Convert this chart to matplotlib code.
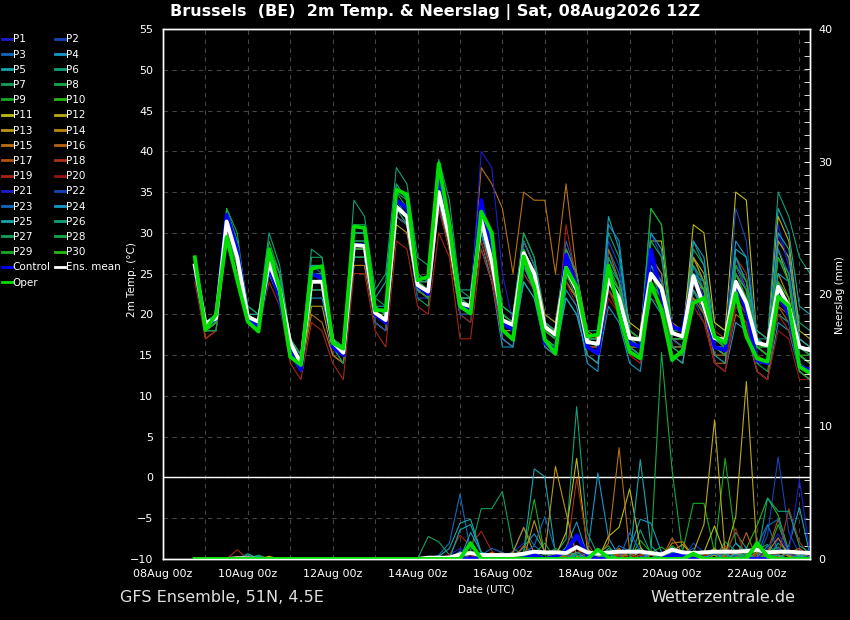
import numpy as np
import pandas as pd
import matplotlib
matplotlib.use('Agg')
import matplotlib.pyplot as plt
import matplotlib.dates as mdates
from matplotlib.ticker import MultipleLocator
from matplotlib.lines import Line2D

# 6-hourly forecast steps, GFS ensemble run 08Aug2026 12Z
times = pd.date_range('2026-08-08 18:00', periods=59, freq='6h')

# ---- 2m temperature (degC) ----
temp_mean = [26, 18.9, 19.5, 31.4, 27, 19.7, 19.1, 26.3, 23, 16.5, 14, 24, 24, 16.6, 15.3, 28.5, 28.4,
             20.2, 19.3, 33.2, 32, 23.6, 22.8, 35, 29.5, 21.4, 21, 31.6, 26.5, 19.3, 18.7, 27.5, 25,
             18.5, 17.5, 25.7, 23, 16.6, 16.4, 24.3, 22, 17.1, 16.9, 25, 23.2, 17.7, 17.3, 24.7, 21,
             17.1, 16.9, 24, 21.4, 16.5, 16.2, 23.4, 21, 16, 15.6]
temp_control = [26, 18.5, 19.5, 32.2, 28, 19.5, 18.5, 26, 22, 15.5, 13.2, 25, 24.5, 16, 15, 28.5, 28.5,
                20, 19, 34, 33, 23.5, 22.5, 36.5, 30.5, 21, 20.5, 34, 27, 18.9, 18.1, 26.7, 24.5,
                16.5, 15.6, 27.3, 23.5, 16, 15.2, 24.5, 22, 16.5, 16, 27.9, 22.2, 18.5, 18, 24.6, 21.5,
                16, 15.6, 24, 20.5, 14.4, 14, 22.5, 20, 13.6, 13.2]
temp_oper = [27, 18.1, 20, 29.5, 24.2, 19.1, 17.9, 28, 23, 14.8, 13.8, 25.6, 25.9, 16.5, 15.8, 30.8, 30.6,
             20.5, 20.5, 35.3, 34.7, 24.2, 24.6, 38.5, 31, 21, 20.1, 32.6, 30, 18.1, 16.9, 27.1, 23.4,
             16.9, 15.2, 25.7, 23.4, 17.3, 17.5, 26, 20.1, 15.4, 14.6, 23.8, 20.5, 14.4, 15.6, 21.4, 22,
             17.3, 16.5, 22.6, 17.3, 14.6, 14.2, 22.2, 21, 13.6, 12.8]

temp_p01 = [26, 18, 19, 32, 28, 20, 19, 27, 23, 16, 14, 25, 24, 17, 15, 29, 29, 20, 19, 34, 33, 24, 23, 36, 30,
            22, 21, 33, 27, 19, 18, 28, 25, 18, 17, 26, 23, 17, 16, 26, 23, 17, 16, 27, 24, 18, 17, 26, 22,
            17, 16, 27, 23, 16, 15, 30, 26, 15, 14]
temp_p02 = [25, 18, 19, 31, 27, 20, 19, 25, 22, 16, 13, 23, 23, 16, 15, 28, 28, 21, 20, 33, 31, 23, 22, 35, 29,
            21, 20, 31, 26, 20, 19, 29, 26, 19, 18, 27, 24, 17, 16, 23, 21, 16, 15, 24, 22, 17, 16, 22, 19,
            16, 15, 21, 19, 14, 14, 20, 19, 14, 13]
temp_p03 = [26, 19, 20, 32, 27, 20, 19, 26, 23, 17, 15, 26, 25, 17, 16, 27, 27, 19, 18, 32, 31, 23, 22, 34, 28,
            20, 20, 30, 25, 17, 16, 25, 23, 18, 17, 29, 25, 17, 17, 28, 25, 18, 17, 24, 22, 17, 17, 27, 24,
            17, 17, 25, 22, 18, 17, 27, 24, 17, 16]
temp_p04 = [26, 19, 20, 31, 26, 19, 19, 25, 22, 16, 13, 22, 22, 16, 15, 27, 27, 20, 19, 33, 32, 24, 23, 33, 28,
            21, 21, 28, 24, 16, 16, 24, 22, 16, 15, 22, 20, 15, 14, 21, 19, 14, 13, 23, 21, 16, 16, 25, 24,
            14, 13, 19, 18, 13, 12, 19, 18, 13, 12]
temp_p05 = [25, 18, 19, 30, 26, 19, 18, 27, 23, 16, 14, 25, 25, 17, 15, 30, 30, 22, 24, 36, 34, 25, 24, 35, 30,
            20, 19, 29, 24, 18, 17, 26, 23, 17, 16, 24, 22, 17, 16, 32, 28, 18, 17, 27, 25, 15, 14, 23, 20,
            16, 15, 26, 23, 17, 16, 33, 30, 21, 20]
temp_p06 = [27, 19, 20, 33, 29, 21, 20, 30, 26, 17, 15, 28, 27, 17, 16, 34, 32, 23, 25, 38, 36, 27, 26, 39, 34,
            23, 23, 34, 29, 21, 20, 30, 27, 20, 19, 28, 25, 18, 18, 30, 27, 18, 17, 26, 23, 18, 18, 29, 26,
            19, 18, 26, 23, 17, 17, 29, 27, 19, 18]
temp_p07 = [26, 18, 19, 31, 27, 20, 19, 26, 23, 16, 14, 24, 24, 17, 15, 28, 28, 20, 19, 33, 32, 23, 22, 37, 31,
            21, 20, 32, 27, 20, 19, 27, 24, 18, 17, 24, 22, 16, 15, 25, 21, 17, 16, 33, 31, 18, 18, 24, 21,
            16, 15, 22, 20, 15, 14, 20, 19, 13, 12]
temp_p08 = [26, 19, 19, 33, 30, 20, 19, 29, 25, 16, 14, 24, 24, 16, 15, 27, 27, 19, 18, 32, 31, 22, 21, 34, 28,
            20, 20, 31, 26, 18, 17, 26, 24, 18, 17, 25, 23, 16, 15, 23, 21, 16, 16, 24, 22, 17, 17, 26, 23,
            17, 16, 24, 22, 16, 15, 22, 20, 16, 15]
temp_p09 = [26, 19, 20, 32, 28, 20, 19, 27, 24, 17, 14, 25, 25, 17, 16, 29, 29, 21, 20, 35, 33, 24, 23, 37, 31,
            22, 21, 33, 28, 20, 19, 28, 25, 19, 18, 27, 24, 17, 16, 25, 22, 17, 16, 26, 24, 18, 17, 27, 24,
            16, 16, 24, 22, 15, 14, 24, 22, 14, 13]
temp_p10 = [26, 18, 19, 30, 26, 19, 18, 26, 22, 16, 13, 23, 23, 16, 15, 27, 27, 20, 19, 33, 32, 23, 23, 36, 30,
            22, 21, 33, 28, 21, 20, 29, 26, 19, 18, 26, 23, 17, 16, 24, 21, 16, 15, 23, 21, 17, 16, 23, 21,
            17, 17, 25, 22, 16, 16, 23, 21, 15, 15]
temp_p11 = [26, 19, 19, 31, 27, 20, 19, 26, 23, 16, 14, 24, 24, 17, 15, 28, 28, 20, 19, 33, 32, 24, 23, 35, 29,
            21, 21, 31, 26, 19, 19, 27, 25, 19, 18, 26, 24, 17, 17, 27, 24, 19, 18, 29, 29, 18, 17, 31, 30,
            19, 18, 35, 34, 17, 16, 28, 24, 15, 14]
temp_p12 = [25, 18, 19, 30, 26, 19, 19, 25, 22, 16, 14, 23, 23, 16, 15, 28, 28, 20, 19, 32, 31, 23, 22, 34, 29,
            21, 20, 31, 26, 18, 18, 26, 24, 17, 16, 24, 22, 17, 16, 25, 23, 18, 17, 26, 24, 17, 17, 27, 25,
            17, 16, 26, 23, 18, 17, 32, 29, 18, 17]
temp_p13 = [26, 18, 18, 29, 25, 19, 18, 25, 22, 16, 13, 21, 21, 15, 14, 26, 26, 19, 18, 31, 30, 23, 22, 34, 28,
            20, 20, 30, 26, 19, 18, 27, 25, 18, 18, 28, 25, 17, 16, 24, 22, 17, 16, 25, 23, 17, 17, 24, 23,
            16, 15, 23, 21, 16, 15, 29, 27, 17, 16]
temp_p14 = [26, 18, 19, 31, 28, 20, 20, 28, 25, 17, 15, 26, 26, 17, 16, 30, 30, 21, 20, 34, 33, 24, 24, 36, 30,
            22, 22, 33, 28, 20, 19, 29, 26, 20, 19, 27, 25, 18, 17, 25, 23, 17, 17, 26, 24, 19, 18, 27, 24,
            17, 16, 25, 23, 17, 16, 25, 22, 16, 15]
temp_p15 = [25, 18, 18, 30, 27, 19, 19, 26, 23, 15, 13, 20, 19, 15, 14, 26, 26, 20, 19, 33, 32, 24, 23, 36, 32,
            22, 22, 38, 36, 33, 25, 35, 34, 34, 25, 36, 25, 16, 16, 24, 22, 16, 16, 23, 21, 16, 16, 22, 21,
            15, 15, 24, 22, 15, 14, 22, 20, 15, 14]
temp_p16 = [25, 17, 18, 30, 26, 19, 18, 26, 22, 16, 14, 23, 23, 16, 15, 27, 27, 20, 19, 32, 31, 23, 22, 34, 29,
            21, 21, 30, 25, 18, 17, 26, 23, 17, 16, 24, 22, 16, 15, 28, 24, 16, 15, 27, 25, 15, 15, 22, 20,
            14, 14, 20, 19, 13, 12, 21, 19, 13, 12]
temp_p17 = [26, 18, 19, 31, 27, 20, 19, 26, 23, 16, 14, 24, 24, 16, 15, 28, 28, 20, 19, 33, 32, 23, 22, 35, 30,
            21, 20, 32, 27, 19, 18, 27, 24, 18, 17, 25, 23, 16, 16, 23, 21, 17, 16, 25, 23, 17, 16, 24, 21,
            16, 15, 26, 23, 15, 14, 21, 20, 14, 13]
temp_p18 = [26, 18, 19, 32, 28, 20, 19, 27, 24, 16, 14, 24, 24, 16, 15, 28, 28, 20, 19, 33, 32, 24, 23, 35, 30,
            21, 21, 31, 27, 19, 18, 27, 24, 18, 17, 25, 23, 17, 16, 24, 22, 18, 17, 26, 24, 17, 16, 25, 22,
            18, 17, 27, 25, 16, 15, 22, 20, 15, 14]
temp_p19 = [24, 17, 18, 29, 25, 19, 18, 24, 21, 14, 12, 19, 18, 14, 12, 25, 25, 18, 16, 29, 28, 21, 20, 30, 27,
            17, 17, 28, 24, 17, 16, 25, 23, 16, 15, 31, 24, 15, 14, 23, 20, 15, 14, 24, 22, 15, 14, 21, 19,
            14, 13, 22, 20, 15, 14, 20, 18, 14, 13]
temp_p20 = [26, 18, 19, 31, 27, 20, 19, 26, 23, 16, 14, 24, 24, 16, 15, 29, 29, 20, 19, 33, 32, 23, 22, 33, 28,
            20, 19, 29, 25, 17, 16, 27, 24, 18, 17, 24, 21, 16, 15, 22, 20, 15, 14, 22, 21, 16, 15, 23, 21,
            14, 13, 21, 19, 13, 12, 18, 17, 12, 12]
temp_p21 = [26, 18, 19, 32, 28, 20, 19, 26, 23, 16, 14, 25, 25, 17, 15, 29, 29, 20, 19, 34, 33, 24, 23, 36, 30,
            22, 21, 40, 38, 25, 19, 28, 25, 18, 17, 26, 24, 17, 16, 25, 23, 17, 16, 26, 23, 17, 17, 24, 22,
            16, 16, 26, 23, 16, 15, 31, 26, 16, 15]
temp_p22 = [25, 18, 18, 30, 26, 19, 18, 25, 22, 15, 13, 23, 23, 16, 14, 27, 27, 19, 18, 32, 31, 22, 22, 34, 29,
            20, 20, 30, 26, 18, 17, 28, 25, 18, 17, 27, 24, 17, 16, 29, 26, 17, 16, 30, 27, 18, 17, 25, 22,
            17, 16, 33, 29, 17, 16, 24, 21, 14, 13]
temp_p23 = [26, 19, 19, 32, 28, 20, 19, 27, 24, 17, 14, 25, 25, 17, 15, 29, 29, 20, 20, 34, 33, 24, 23, 36, 31,
            22, 21, 33, 28, 20, 19, 29, 26, 19, 18, 27, 24, 17, 16, 27, 24, 16, 15, 26, 24, 17, 16, 26, 23,
            17, 16, 27, 24, 17, 16, 28, 25, 16, 15]
temp_p24 = [26, 18, 19, 31, 27, 20, 19, 26, 23, 16, 14, 24, 24, 16, 15, 28, 28, 21, 21, 34, 32, 23, 23, 34, 29,
            21, 21, 30, 26, 17, 16, 26, 23, 16, 15, 23, 21, 14, 13, 31, 29, 18, 17, 30, 28, 16, 15, 29, 27,
            17, 16, 29, 27, 17, 16, 25, 24, 15, 14]
temp_p25 = [26, 19, 20, 32, 28, 20, 20, 28, 25, 17, 15, 26, 26, 17, 16, 30, 30, 21, 20, 34, 33, 24, 24, 36, 31,
            22, 22, 32, 27, 18, 17, 24, 22, 17, 16, 22, 20, 15, 14, 24, 22, 16, 15, 22, 20, 15, 14, 23, 21,
            15, 14, 28, 27, 16, 15, 30, 28, 17, 16]
temp_p26 = [26, 18, 19, 31, 27, 19, 19, 26, 23, 16, 14, 25, 25, 17, 15, 30, 30, 21, 20, 35, 34, 24, 23, 36, 31,
            22, 22, 32, 27, 19, 18, 27, 25, 18, 17, 26, 24, 17, 16, 26, 24, 16, 15, 26, 24, 18, 17, 28, 26,
            17, 16, 27, 24, 18, 17, 35, 32, 27, 25]
temp_p27 = [26, 19, 19, 32, 29, 21, 20, 28, 25, 17, 15, 27, 27, 17, 16, 31, 31, 22, 21, 36, 34, 25, 24, 37, 32,
            23, 22, 34, 29, 21, 20, 30, 27, 19, 18, 28, 25, 17, 17, 27, 24, 18, 17, 29, 27, 18, 17, 26, 24,
            17, 16, 25, 23, 16, 15, 27, 25, 15, 14]
temp_p28 = [25, 18, 18, 30, 26, 19, 19, 26, 23, 16, 13, 23, 23, 16, 14, 27, 27, 20, 19, 33, 31, 23, 22, 35, 29,
            21, 20, 31, 26, 18, 17, 27, 24, 17, 16, 25, 22, 16, 15, 24, 22, 17, 16, 24, 22, 16, 15, 24, 22,
            16, 15, 23, 21, 14, 13, 22, 20, 13, 12]
temp_p29 = [26, 18, 19, 31, 27, 20, 19, 27, 23, 16, 14, 24, 24, 17, 15, 29, 29, 20, 19, 33, 32, 24, 23, 36, 30,
            22, 21, 32, 27, 20, 19, 28, 25, 18, 17, 27, 24, 17, 16, 26, 23, 18, 17, 33, 31, 18, 17, 25, 23,
            17, 16, 26, 24, 16, 16, 27, 24, 16, 15]
temp_p30 = [26, 18, 19, 31, 27, 20, 19, 26, 23, 16, 14, 24, 24, 17, 15, 28, 28, 20, 20, 33, 32, 24, 23, 35, 30,
            21, 21, 32, 27, 19, 18, 28, 25, 18, 17, 26, 23, 17, 16, 25, 23, 17, 16, 25, 22, 17, 17, 25, 23,
            16, 16, 24, 22, 16, 15, 24, 22, 15, 14]

# ---- precipitation per 6h (mm) ----
rain_mean = [0, 0, 0, 0, 0.05, 0.05, 0, 0, 0, 0, 0, 0, 0, 0, 0, 0, 0, 0, 0, 0, 0, 0, 0.1, 0.1, 0.1,
             0.35, 0.45, 0.3, 0.3, 0.3, 0.3, 0.4, 0.55, 0.5, 0.5, 0.45, 0.9, 0.5, 0.4, 0.5, 0.55,
             0.55, 0.55, 0.45, 0.35, 0.7, 0.5, 0.45, 0.5, 0.55, 0.55, 0.55, 0.6, 0.7, 0.5, 0.55, 0.55, 0.5, 0.45]
rain_control = [0, 0, 0, 0, 0, 0, 0, 0, 0, 0, 0, 0, 0, 0, 0, 0, 0, 0, 0, 0, 0, 0, 0, 0, 0,
                0, 0, 0, 0, 0, 0, 0, 0.3, 0, 0.2, 0.6, 1.8, 0.3, 0, 0, 0, 0, 0, 0, 0,
                0.3, 0.3, 0, 0, 0, 0, 0, 0, 0, 0, 0, 0, 0, 0]
rain_oper = [0, 0, 0, 0, 0, 0, 0, 0, 0, 0, 0, 0, 0, 0, 0, 0, 0, 0, 0, 0, 0, 0, 0, 0, 0,
             0, 1.2, 0, 0, 0, 0, 0, 0, 0, 0, 0, 0, 0, 0.7, 0.1, 0, 0, 0, 0, 0,
             0, 0, 0.4, 0, 0, 0, 0, 0, 1.2, 0.2, 0, 0, 0, 0]

rain_p01 = [0, 0, 0, 0, 0, 0, 0, 0, 0, 0, 0, 0, 0, 0, 0, 0, 0, 0, 0, 0, 0, 0, 0, 0, 0.3,
            0.8, 0.2, 0, 0, 0, 0.5, 1.2, 0.3, 0, 0, 0.4, 1.5, 0.6, 0, 0, 0.2, 0, 0.8, 0.3, 0,
            0.5, 1.1, 0.4, 0, 0, 0.6, 0.2, 0.9, 0.3, 0, 1.5, 0.4, 0.2, 0]
rain_p02 = [0, 0, 0, 0, 0, 0, 0, 0, 0, 0, 0, 0, 0, 0, 0, 0, 0, 0, 0, 0, 0, 0, 0, 0, 0,
            0, 0, 0.4, 0.1, 0, 0, 0, 0, 0, 0, 0, 0, 0.7, 0, 0, 0, 0, 0.3, 0, 0,
            0, 0, 1.2, 0.5, 0, 0.8, 0.2, 0.6, 0, 1.8, 7.7, 2.0, 0.4, 0.2]
rain_p03 = [0, 0, 0, 0, 0, 0, 0, 0, 0, 0, 0, 0, 0, 0, 0, 0, 0, 0, 0, 0, 0.1, 0, 0, 0.3, 1.2,
            4.9, 0.6, 0.2, 0.4, 0, 0.6, 2.3, 1.0, 0.4, 0.2, 0, 0.5, 0.2, 0, 0, 1.0, 0.6, 0.2, 0, 0,
            0.3, 0.5, 0, 0.3, 0, 0.8, 0.5, 0.2, 1.0, 2.6, 0.6, 0.3, 0, 0.4]
rain_p04 = [0, 0, 0, 0, 0, 0, 0, 0, 0, 0, 0, 0, 0, 0, 0, 0, 0, 0, 0, 0, 0, 0, 0, 0, 0,
            0.5, 0, 0, 0, 0, 0, 0.9, 1.9, 0.6, 0, 0.9, 2.8, 0.3, 6.5, 1.6, 0.2, 0.8, 3.0, 2.7, 0.5,
            0.2, 0, 0.3, 0, 0, 0.7, 0.2, 0.3, 0, 1.0, 0, 0.5, 0, 0.2]
rain_p05 = [0, 0, 0, 0, 0, 0.4, 0, 0, 0, 0, 0, 0, 0, 0, 0, 0, 0, 0, 0, 0, 0, 0, 0, 0.2, 0.8,
            2.7, 3.0, 0.5, 0, 0.2, 0, 0.5, 6.8, 6.2, 0.4, 0.2, 0, 0.5, 0, 0.8, 0.4, 0, 0, 0, 0.2,
            0.6, 0, 0, 0.4, 0.8, 0, 0.4, 0.2, 0.2, 0.6, 0.3, 1.0, 3.9, 0.3]
rain_p06 = [0, 0, 0, 0, 0, 0.3, 0.1, 0, 0, 0, 0, 0, 0, 0, 0, 0, 0, 0, 0, 0, 0, 0, 0, 0, 0,
            0, 0.4, 0.2, 0, 0, 0.5, 0, 0.3, 0, 0.4, 1.5, 11.5, 2.0, 0.3, 0, 0.6, 0, 2.2, 0.4, 0,
            0.9, 0, 0.4, 0.2, 0, 0.5, 2.0, 0.8, 0.3, 0, 1.2, 0.5, 0, 0]
rain_p07 = [0, 0, 0, 0, 0, 0, 0.2, 0, 0, 0, 0, 0, 0, 0, 0, 0, 0, 0, 0, 0, 0.1, 0, 1.7, 1.3, 0.3,
            0.2, 0.6, 3.8, 3.8, 5.1, 0.8, 0.3, 0, 0, 0.6, 0.2, 0, 0, 0.4, 1.0, 0, 0.5, 0.8, 0, 0.2,
            0.4, 0, 0.6, 0, 0.3, 0, 0.5, 0.2, 0.7, 1.1, 0.3, 0, 0.2, 0.4]
rain_p08 = [0, 0, 0, 0, 0, 0, 0, 0, 0, 0, 0, 0, 0, 0, 0, 0, 0, 0, 0, 0, 0, 0, 0, 0, 0,
            0, 0, 0.5, 0.3, 0, 0, 0.2, 0.4, 1.2, 0, 0.6, 0.3, 0, 0.4, 0, 0.2, 0.3, 0, 0.5, 15.6,
            6.7, 0.4, 0.2, 0.5, 0, 1.3, 0.6, 0, 0, 0.4, 0.9, 0.3, 0, 0]
rain_p09 = [0, 0, 0, 0, 0, 0, 0, 0, 0, 0, 0, 0, 0, 0, 0, 0, 0, 0, 0, 0, 0, 0, 0, 0, 0,
            0, 0, 0, 0.4, 0.2, 0, 0.5, 4.5, 0.3, 0.8, 0.4, 0, 0.3, 0.6, 0.2, 0, 0, 1.4, 0.5, 0.9,
            0.3, 0.6, 4.2, 4.2, 0.5, 7.6, 1.2, 0.3, 0.6, 0.4, 2.6, 0.5, 0.3, 0]
rain_p10 = [0, 0, 0, 0, 0, 0, 0, 0, 0, 0, 0, 0, 0, 0, 0, 0, 0, 0, 0, 0, 0, 0, 0, 0, 0,
            0.4, 0.6, 0, 0, 0, 0, 0.3, 0, 0, 0.2, 0.6, 0.2, 0, 0, 0.4, 0, 0.3, 0, 0.6, 0.2,
            0, 0.4, 0, 0.3, 0, 0.4, 0, 0.8, 2.5, 4.6, 3.3, 0.6, 0.2, 0]
rain_p11 = [0, 0, 0, 0, 0, 0, 0, 0.2, 0, 0, 0, 0, 0, 0, 0, 0, 0, 0, 0, 0, 0, 0, 0, 0, 0,
            0, 0, 0, 0.3, 0, 0, 0, 0.6, 0, 0.2, 2.0, 7.6, 0.8, 0, 1.7, 2.4, 5.3, 0.9, 0, 0.4,
            0, 0, 0.3, 0.5, 2.5, 0.3, 0, 0.4, 0, 0.5, 0.2, 0, 0.3, 0]
rain_p12 = [0, 0, 0, 0, 0, 0, 0, 0.1, 0, 0, 0, 0, 0, 0, 0, 0, 0, 0, 0, 0, 0, 0, 0, 0, 0,
            0, 0, 0, 0, 0, 0, 0.2, 0, 0, 0.4, 0, 0.3, 0, 0.5, 0, 0.3, 0, 0.6, 0, 0.2,
            0.8, 0, 0.5, 2.6, 10.5, 0.4, 3.2, 13.4, 0.6, 0.4, 0, 0.7, 0.3, 0]
rain_p13 = [0, 0, 0, 0, 0, 0, 0, 0.1, 0, 0, 0, 0, 0, 0, 0, 0, 0, 0, 0, 0, 0, 0, 0, 0, 0,
            0, 0, 0, 0, 0, 0, 0, 2.9, 0.4, 7.0, 3.5, 0.2, 0, 0.6, 0, 0.3, 0, 0, 0.5, 0,
            0.6, 1.1, 0.2, 0, 0.3, 0, 0.4, 0, 0.5, 0, 0.6, 0.2, 0, 0]
rain_p14 = [0, 0, 0, 0, 0, 0, 0, 0, 0, 0, 0, 0, 0, 0, 0, 0, 0, 0, 0, 0, 0, 0, 0, 0, 0,
            0.2, 0, 0, 0, 0, 0.5, 2.4, 0.4, 0, 0.3, 0.2, 0.5, 0.6, 0, 0, 0.8, 0, 0.3, 0.4, 0,
            1.2, 1.3, 0.2, 0, 0.8, 0, 0.4, 0, 0, 0.5, 1.6, 0.3, 0, 0.4]
rain_p15 = [0, 0, 0, 0, 0, 0, 0, 0, 0, 0, 0, 0, 0, 0, 0, 0, 0, 0, 0, 0, 0, 0, 0, 0, 0,
            0, 0, 0, 0, 0, 0, 0, 0, 0, 0, 0, 0, 0, 0.2, 1.2, 8.4, 0.5, 0, 0.3, 0,
            0, 0.6, 0, 0, 0, 0.2, 0, 0, 0.4, 0.2, 0, 0, 0, 0]
rain_p16 = [0, 0, 0, 0, 0, 0, 0, 0, 0, 0, 0, 0, 0, 0, 0, 0, 0, 0, 0, 0, 0, 0, 0, 0, 0,
            0, 0, 0.2, 0.5, 0.2, 0, 1.0, 0.3, 0, 0, 0.5, 0, 0.3, 0, 0, 0.4, 0, 0, 0, 0,
            1.6, 0.4, 0, 0, 0, 0.3, 0, 2.0, 0, 0.4, 0, 0.5, 0.8, 0.2]
rain_p17 = [0, 0, 0, 0, 0, 0, 0, 0, 0, 0, 0, 0, 0, 0, 0, 0, 0, 0, 0, 0, 0, 0, 0, 0, 0,
            0, 0, 0, 0.3, 0.5, 0, 0, 0, 0, 0.7, 0, 0, 0, 0, 0, 0.5, 0, 0, 0.3, 0,
            0, 0.4, 0, 0, 0, 1.0, 0, 0, 0, 0.6, 3.0, 0.5, 0, 0]
rain_p18 = [0, 0, 0, 0, 0, 0, 0, 0, 0, 0, 0, 0, 0, 0, 0, 0, 0, 0, 0, 0, 0, 0, 0, 0, 0,
            0, 0, 0, 0, 0, 0, 0, 0, 0, 0, 0, 6.1, 1.2, 0, 0, 0.3, 0.5, 0, 0, 0,
            0.3, 0, 0, 0.4, 0, 0, 0.6, 0, 0.4, 0.5, 0.2, 3.8, 1.3, 0.2]
rain_p19 = [0, 0, 0, 0, 0.7, 0, 0, 0, 0, 0, 0, 0, 0, 0, 0, 0, 0, 0, 0, 0, 0, 0, 0, 0, 0.3,
            1.8, 1.0, 2.1, 0.6, 0, 0, 0, 0, 0, 0.3, 0, 0.8, 0, 0, 0, 0.2, 0, 0.3, 0, 0,
            0, 0.5, 0, 0, 0.6, 0, 2.3, 0, 0, 0, 0.4, 0.6, 0, 0]
rain_p20 = [0, 0, 0, 0, 0.2, 0, 0, 0, 0, 0, 0, 0, 0, 0, 0, 0, 0, 0, 0, 0, 0, 0, 0, 0, 0,
            0, 0.3, 0, 0, 0, 0, 0, 0.4, 0, 0, 0, 0, 0, 0, 0, 0, 0.3, 0, 0, 0,
            0, 0, 0, 0.3, 0, 0, 0, 0, 0.2, 0, 0, 0.5, 0, 0]
rain_p21 = [0, 0, 0, 0, 0, 0, 0, 0, 0, 0, 0, 0, 0, 0, 0, 0, 0, 0, 0, 0, 0, 0, 0, 0, 0,
            0, 0, 0.4, 0, 0, 0, 0, 0, 0, 0, 0, 0.3, 0, 0, 0, 0, 0, 0, 0.5, 0,
            0, 0.3, 0, 0, 0, 0, 0, 0, 0, 0.8, 1.9, 0.5, 6.0, 0.4]
rain_p22 = [0, 0, 0, 0, 0, 0, 0, 0, 0, 0, 0, 0, 0, 0, 0, 0, 0, 0, 0, 0, 0, 0, 0, 0, 0,
            0, 0.5, 0.3, 0, 0, 0, 0.2, 0.4, 0, 0, 0, 0, 0, 0, 0, 0, 0, 0, 0, 0.3,
            0.6, 0, 0, 0.2, 0, 0.5, 0, 0, 0, 0, 0.8, 0.4, 0, 0.3]
rain_p23 = [0, 0, 0, 0, 0, 0, 0, 0, 0, 0, 0, 0, 0, 0, 0, 0, 0, 0, 0, 0, 0, 0, 0, 0, 0,
            0.6, 0, 0.3, 0.8, 0.5, 0, 0.4, 1.0, 3.2, 0.6, 0.3, 0, 0.2, 0, 0.4, 0, 2.0, 0.6, 0, 0.3,
            0, 0.4, 0.8, 0, 0.4, 0, 0.3, 0, 0, 2.5, 3.0, 0.4, 0, 0]
rain_p24 = [0, 0, 0, 0, 0, 0, 0, 0, 0, 0, 0, 0, 0, 0, 0, 0, 0, 0, 0, 0, 0, 0, 0, 0, 0,
            0, 2.0, 0.5, 0, 0, 0, 0, 0.5, 0, 0, 0.8, 0, 0, 0.5, 0, 0, 0, 0, 0.4, 0,
            0.5, 0, 0, 0.2, 0, 0, 1.2, 0.5, 0, 0.2, 0.3, 0, 0.3, 0]
rain_p25 = [0, 0, 0, 0, 0, 0, 0.2, 0, 0, 0, 0, 0, 0, 0, 0, 0, 0, 0, 0, 0, 0, 0, 0, 0, 0,
            2.2, 2.6, 0.5, 0, 0, 0, 0.4, 0, 0, 0, 0, 0.5, 0, 0.3, 0.4, 0, 0, 7.5, 1.0, 0.2,
            0, 0.3, 0, 0, 0.5, 0, 0.4, 0.2, 0, 0.3, 0, 0.6, 0.2, 0]
rain_p26 = [0, 0, 0, 0, 0, 0, 0.3, 0, 0, 0, 0, 0, 0, 0, 0, 0, 0, 0, 0, 0, 0, 0, 0, 0, 0,
            0, 0, 0, 0, 0, 0, 0, 0, 0.4, 0, 0, 0.3, 0, 0, 0.5, 0, 0, 0, 0, 0.3,
            0, 0, 0, 0, 0, 0.4, 0, 0.3, 0, 4.6, 3.6, 3.6, 1.0, 0.5]
rain_p27 = [0, 0, 0, 0, 0, 0, 0, 0, 0, 0, 0, 0, 0, 0, 0, 0, 0, 0, 0, 0, 0, 0, 0, 0, 0,
            0, 0, 0, 0, 0, 0, 0, 0, 0, 0, 0.5, 0.3, 0, 0, 0, 0, 0, 0, 0, 0,
            0.3, 0, 0.2, 0, 0, 0, 0, 0.5, 0.6, 0.4, 0, 0, 0, 0]
rain_p28 = [0, 0, 0, 0, 0, 0, 0, 0, 0, 0, 0, 0, 0, 0, 0, 0, 0, 0, 0, 0, 0, 0, 0, 0, 0,
            0, 0, 0, 0, 0, 0, 0.3, 0, 0, 0, 0, 0, 0, 0, 0, 0, 0, 0, 0, 0,
            1.0, 0.4, 0, 0, 0, 0, 0, 0.3, 0, 0.2, 0, 0, 0, 0]
rain_p29 = [0, 0, 0, 0, 0, 0, 0, 0, 0, 0, 0, 0, 0, 0, 0, 0, 0, 0, 0, 0, 0, 0, 0, 0, 0,
            0, 0, 0, 0, 0, 0, 0, 0, 0, 0, 0, 0, 0, 0, 0, 0, 0, 0, 0, 0.5,
            0.2, 0, 0, 0, 0, 0, 0, 0, 0, 0.4, 0, 0, 0, 0]
rain_p30 = [0, 0, 0, 0, 0, 0, 0, 0, 0, 0, 0, 0, 0, 0, 0, 0, 0, 0, 0, 0, 0, 0, 0, 0, 0,
            0, 0, 0, 0, 0, 0, 0, 0, 0, 0, 0, 0, 0, 0, 0, 0, 0, 0, 0, 0,
            0, 0.3, 0, 0, 0, 0, 0, 0, 0, 0, 0, 0, 0, 0]

temp_members = [temp_p01, temp_p02, temp_p03, temp_p04, temp_p05, temp_p06, temp_p07, temp_p08, temp_p09, temp_p10,
                temp_p11, temp_p12, temp_p13, temp_p14, temp_p15, temp_p16, temp_p17, temp_p18, temp_p19, temp_p20,
                temp_p21, temp_p22, temp_p23, temp_p24, temp_p25, temp_p26, temp_p27, temp_p28, temp_p29, temp_p30]
rain_members = [rain_p01, rain_p02, rain_p03, rain_p04, rain_p05, rain_p06, rain_p07, rain_p08, rain_p09, rain_p10,
                rain_p11, rain_p12, rain_p13, rain_p14, rain_p15, rain_p16, rain_p17, rain_p18, rain_p19, rain_p20,
                rain_p21, rain_p22, rain_p23, rain_p24, rain_p25, rain_p26, rain_p27, rain_p28, rain_p29, rain_p30]

# colour cycle of the 20 member colours (P21-P30 reuse P1-P10)
member_colors = ['#1c1ccc', '#1244b8', '#1468bc', '#1598c8', '#14a8ac', '#12a07c', '#12a05c', '#12a843',
                 '#14ac22', '#26bb12', '#bcbc12', '#bcaa12', '#bc9612', '#bc8612', '#b87012', '#b86212',
                 '#b45012', '#aa3414', '#a82414', '#981414']

W, H = 850, 620
fig = plt.figure(figsize=(W / 100, H / 100), dpi=100, facecolor='black')
ax = fig.add_axes([163 / W, 61 / H, 647 / W, 530 / H], facecolor='black')
ax2 = ax.twinx()

for k in range(30):
    col = member_colors[k % 20]
    ax.plot(times, temp_members[k], color=col, lw=0.8)
    ax2.plot(times, rain_members[k], color=col, lw=0.8)

ax.plot(times, temp_control, color='#0000ff', lw=2.8)
ax.plot(times, temp_mean, color='white', lw=2.8)
ax.plot(times, temp_oper, color='#00dd00', lw=2.8)
ax2.plot(times, rain_control, color='#0000ff', lw=2.8)
ax2.plot(times, rain_mean, color='white', lw=2.8)
ax2.plot(times, rain_oper, color='#00dd00', lw=2.8)

ax.axhline(0, color='white', lw=1)

ax.set_xlim(pd.Timestamp('2026-08-08 00:00'), pd.Timestamp('2026-08-23 06:00'))
ax.set_ylim(-10, 55)
ax2.set_ylim(0, 40)

ax.xaxis.set_major_locator(mdates.DayLocator(interval=2))
ax.xaxis.set_minor_locator(mdates.DayLocator())
ax.xaxis.set_major_formatter(mdates.DateFormatter('%d%b %Hz'))
ax.yaxis.set_major_locator(MultipleLocator(5))
ax2.yaxis.set_major_locator(MultipleLocator(10))
ax2.yaxis.set_minor_locator(MultipleLocator(1))

ax.grid(True, which='both', axis='x', color='#444444', ls=(0, (4, 4)), lw=0.8)
ax.grid(True, which='major', axis='y', color='#444444', ls=(0, (4, 4)), lw=0.8)
ax.set_axisbelow(True)

ax.tick_params(axis='both', which='both', length=0, colors='white', labelsize=8, pad=7)
ax2.tick_params(axis='y', which='both', direction='in', length=4, colors='white', labelsize=8, pad=6)
for a in (ax, ax2):
    for s in a.spines.values():
        s.set_color('white')
        s.set_linewidth(1)

# texts
fig.text(435 / W, 1 - 12 / H, 'Brussels  (BE)  2m Temp. & Neerslag | Sat, 08Aug2026 12Z',
         color='white', fontsize=11.5, fontweight='bold', ha='center', va='center')
fig.text(486 / W, 1 - 589 / H, 'Date (UTC)', color='white', fontsize=7.5, ha='center', va='center')
fig.text(132 / W, 1 - 280 / H, '2m Temp. (°C)', color='white', fontsize=7.5, rotation=90,
         ha='center', va='center')
fig.text(840 / W, 1 - 295 / H, 'Neerslag (mm)', color='white', fontsize=7.5, rotation=90,
         ha='center', va='center')
fig.text(120 / W, 1 - 598 / H, 'GFS Ensemble, 51N, 4.5E', color='#e0e0e0', fontsize=11.5, va='center')
fig.text(650 / W, 1 - 598 / H, 'Wetterzentrale.de', color='#e0e0e0', fontsize=11.5, va='center')

# legend: two columns, P1/P3/... on the left, P2/P4/... on the right
def proxy(c, lw):
    return Line2D([], [], color=c, lw=lw)

left_h = [proxy(member_colors[(k - 1) % 20], 2) for k in range(1, 31, 2)] + [proxy('#0000ff', 2), proxy('#00dd00', 2)]
left_l = ['P%d' % k for k in range(1, 31, 2)] + ['Control', 'Oper']
right_h = [proxy(member_colors[(k - 1) % 20], 2) for k in range(2, 31, 2)] + [proxy('white', 2)]
right_l = ['P%d' % k for k in range(2, 31, 2)] + ['Ens. mean']
leg = fig.legend(left_h + right_h, left_l + right_l, loc='upper left', bbox_to_anchor=(-0.006, 1 - 27 / H),
                 ncol=2, frameon=False, fontsize=7.5, handlelength=0.9, handletextpad=0.1,
                 columnspacing=0.45, labelspacing=0.5, borderpad=0.2)
for t in leg.get_texts():
    t.set_color('white')

fig.savefig('out.png', dpi=100, facecolor='black')
